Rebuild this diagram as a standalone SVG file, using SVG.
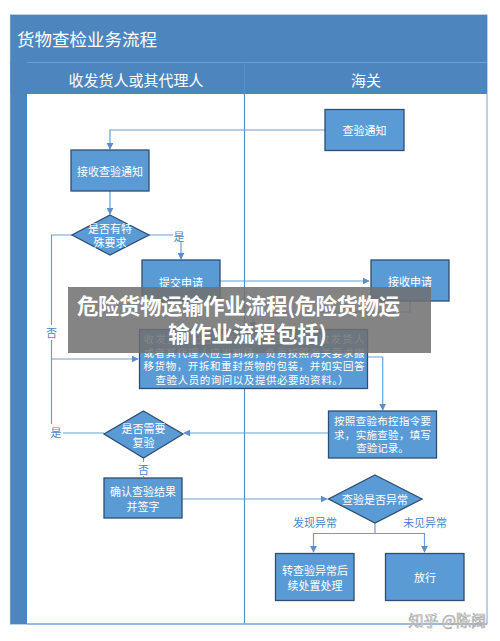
<svg xmlns="http://www.w3.org/2000/svg" width="500" height="641" viewBox="0 0 500 641">
<defs>
<style>
.t{font-family:"Noto Sans CJK SC","Noto Sans",sans-serif;}
.node rect,.node polygon{fill:#5b9bd5;stroke:#2f4e73;stroke-width:1.3;}
.node text{fill:#ffffff;font-size:11px;text-anchor:middle;dominant-baseline:central;}
.node text.sm{font-size:10.5px;}
.conn path{fill:none;stroke:#6a9fd3;stroke-width:1.2;}
.lbl{fill:#4f86c6;font-size:11px;text-anchor:middle;dominant-baseline:central;}
.hdr{fill:#ffffff;font-size:15px;text-anchor:middle;dominant-baseline:central;}
</style>
<marker id="ah" viewBox="0 0 10 10" refX="9" refY="5" markerWidth="7" markerHeight="7" orient="auto" markerUnits="userSpaceOnUse">
<path d="M0,0 L10,5 L0,10 z" fill="#5b8fc9"/>
</marker>
</defs>
<rect width="500" height="641" fill="#ffffff"/>
<g id="frame">
<rect x="10.5" y="15" width="476.5" height="609" fill="#ffffff" stroke="#8fb2d8" stroke-width="1.2"/>
<rect x="10.5" y="15" width="476.5" height="47" fill="#4d86be"/>
<rect x="10.5" y="62" width="476.5" height="32" fill="#4d86be"/>
<line x1="27" y1="62.5" x2="487" y2="62.5" stroke="#6d9fd2" stroke-width="1"/>
<rect x="10.5" y="62" width="16.5" height="562" fill="#4d86be"/>
<line x1="244.5" y1="62" x2="244.5" y2="624" stroke="#5a8fc5" stroke-width="1.2"/>
<line x1="27" y1="624" x2="487" y2="624" stroke="#8fb2d8" stroke-width="1.5"/>
<text class="t" x="17" y="38.5" fill="#ffffff" font-size="17.5" dominant-baseline="central">货物查检业务流程</text>
<text class="t hdr" x="136" y="79">收发货人或其代理人</text>
<text class="t hdr" x="366" y="79">海关</text>
</g>
<g class="conn">
<path d="M325,130 H110 V149" marker-end="url(#ah)"/>
<path d="M110,191 V214" marker-end="url(#ah)"/>
<path d="M149,235 H181 V259" marker-end="url(#ah)"/>
<path d="M220,281 H369" marker-end="url(#ah)"/>
<path d="M72,235 H51.5 V359 H138" marker-end="url(#ah)"/>
<path d="M104,433 H51.5 V359"/>
<path d="M410,301 V312 H253 V328" marker-end="url(#ah)"/>
<path d="M368,357 H382.7 V410" marker-end="url(#ah)"/>
<path d="M328,433 H184" marker-end="url(#ah)"/>
<path d="M143.5,458 V477"/>
<path d="M182,499 H327" marker-end="url(#ah)"/>
<path d="M375,523 V533.5 H313.5 V552" marker-end="url(#ah)"/>
<path d="M375,533.5 H424.5 V552" marker-end="url(#ah)"/>
</g>
<g id="labels">
<rect x="173" y="228" width="13" height="14" fill="#ffffff"/>
<text class="t lbl" x="179" y="235.5">是</text>
<rect x="45" y="325" width="13" height="15" fill="#ffffff"/>
<text class="t lbl" x="51.5" y="332">否</text>
<rect x="49" y="424" width="14" height="17" fill="#ffffff"/>
<text class="t lbl" x="56" y="432">是</text>
<rect x="137" y="462" width="13" height="14" fill="#ffffff"/>
<text class="t lbl" x="143.5" y="469">否</text>
<text class="t lbl" x="315" y="521.5">发现异常</text>
<text class="t lbl" x="425" y="521.5">未见异常</text>
</g>
<g id="n1" class="node t">
<rect x="325" y="109.5" width="79" height="41"/>
<text x="364.5" y="130">查验通知</text>
</g>
<g id="n2" class="node t">
<rect x="71" y="150" width="78" height="41"/>
<text x="110" y="170.5">接收查验通知</text>
</g>
<g id="n3" class="node t">
<polygon points="110,215 149,235 110,255 72,235"/>
<text x="110" y="228">是否有特</text>
<text x="110" y="242">殊要求</text>
</g>
<g id="n4" class="node t">
<rect x="142" y="260" width="78" height="41"/>
<text x="181" y="282">提交申请</text>
</g>
<g id="n5" class="node t">
<rect x="371" y="260" width="78" height="41"/>
<text x="410" y="280.5">接收申请</text>
</g>
<g id="n6" class="node t">
<rect x="139.5" y="329.5" width="228" height="59"/>
<text class="sm" x="254" y="338.5" textLength="221" lengthAdjust="spacing">收发货人配合海关查验（查验时，收发货人</text>
<text class="sm" x="254" y="352" textLength="221" lengthAdjust="spacing">或者其代理人应当到场，负责按照海关要求搬</text>
<text class="sm" x="254" y="365.5" textLength="221" lengthAdjust="spacing">移货物，开拆和重封货物的包装，并如实回答</text>
<text class="sm" x="252" y="379" textLength="193" lengthAdjust="spacing">查验人员的询问以及提供必要的资料。）</text>
</g>
<g id="n7" class="node t">
<rect x="328.5" y="411" width="108" height="47"/>
<text class="sm" x="382.5" y="420.5" textLength="97" lengthAdjust="spacing">按照查验布控指令要</text>
<text class="sm" x="382.5" y="434" textLength="97" lengthAdjust="spacing">求，实施查验，填写</text>
<text class="sm" x="382.5" y="447.5">查验记录。</text>
</g>
<g id="n8" class="node t">
<polygon points="143.5,411 183,434 143.5,458 104,434"/>
<text x="143.5" y="427.5">是否需要</text>
<text x="143.5" y="441.5">复验</text>
</g>
<g id="n9" class="node t">
<rect x="104" y="478" width="78" height="40"/>
<text x="143" y="491">确认查验结果</text>
<text x="143" y="505.5">并签字</text>
</g>
<g id="n10" class="node t">
<polygon points="375,475 422,499 375,523 328.5,499"/>
<text x="375" y="499">查验是否异常</text>
</g>
<g id="n11" class="node t">
<rect x="275.5" y="553.5" width="78.5" height="47"/>
<text x="315" y="570">转查验异常后</text>
<text x="315" y="584.5">续处置处理</text>
</g>
<g id="n12" class="node t">
<rect x="385.5" y="553.5" width="78.5" height="47"/>
<text x="425" y="577">放行</text>
</g>
<g id="banner">
<rect x="68" y="287" width="363" height="66" fill="#707070" fill-opacity="0.86"/>
<text class="t" x="77" y="304" fill="#ffffff" font-size="21.5" font-weight="bold" dominant-baseline="central" textLength="323" lengthAdjust="spacing">危险货物运输作业流程(危险货物运</text>
<text class="t" x="247.5" y="332" fill="#ffffff" font-size="21.5" font-weight="bold" text-anchor="middle" dominant-baseline="central">输作业流程包括)</text>
</g>
<text class="t" x="486" y="619" fill="#ffffff" stroke="#a9a9a9" stroke-width="0.7" font-size="15" text-anchor="end" dominant-baseline="central">知乎 @陈阔</text>
</svg>
